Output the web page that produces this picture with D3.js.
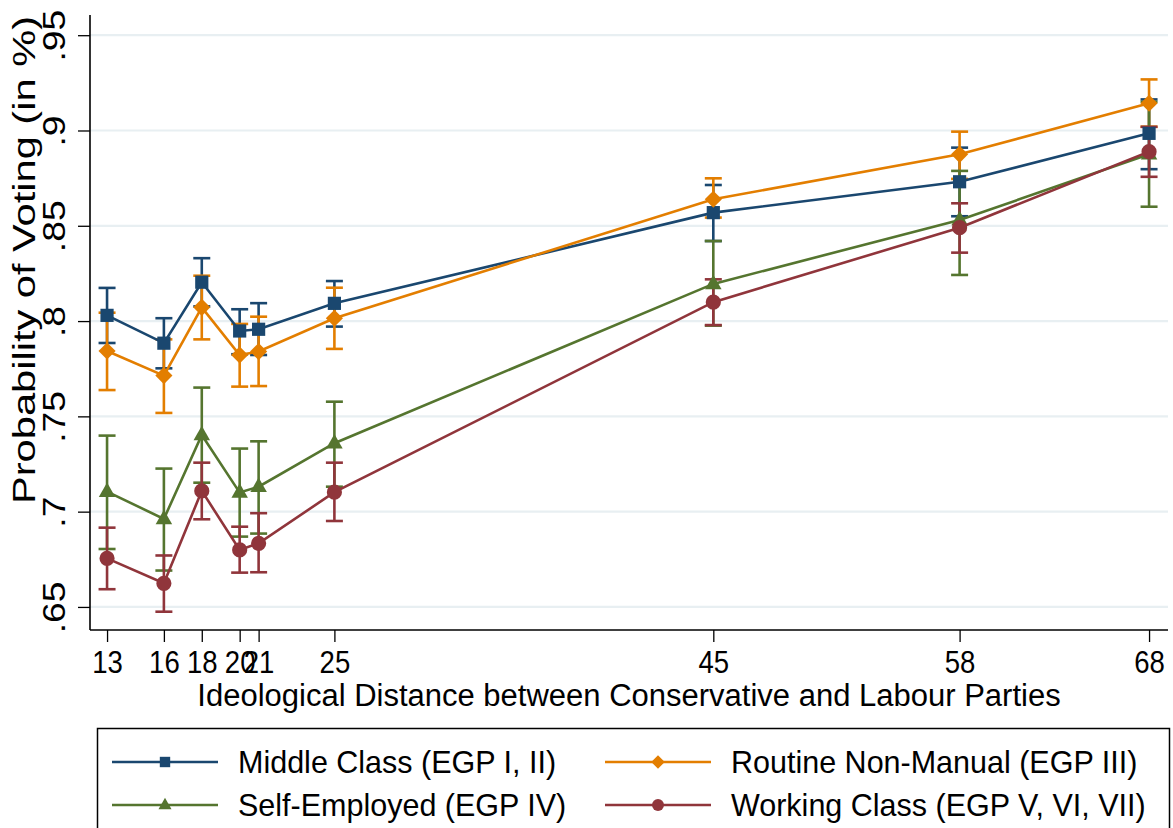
<!DOCTYPE html>
<html>
<head>
<meta charset="utf-8">
<script src="https://cdn.jsdelivr.net/npm/d3@7"></script>
<style>
  html, body { margin: 0; padding: 0; background: #ffffff; }
  svg { display: block; font-family: "Liberation Sans", Arial, Helvetica, sans-serif; }
</style>
</head>
<body>
<svg id="chart" width="1173" height="828"></svg>
<script>
// Ideological distance (x) for each election
const distances = [13, 16, 18, 20, 21, 25, 45, 58, 68];
const xTickLabels = ["13", "16", "18", "20", "21", "25", "45", "58", "68"];
const yTickValues = [0.65, 0.70, 0.75, 0.80, 0.85, 0.90, 0.95];
const yTickLabels = [".65", ".7", ".75", ".8", ".85", ".9", ".95"];

// Predicted probabilities with confidence bounds, one set per class
const middleClass   = [0.8030, 0.7884, 0.8204, 0.7948, 0.7957, 0.8093, 0.8569, 0.8731, 0.8985];
const middleClassLo = [0.7885, 0.7752, 0.8077, 0.7826, 0.7822, 0.7971, 0.8420, 0.8550, 0.8797];
const middleClassHi = [0.8174, 0.8015, 0.8330, 0.8062, 0.8094, 0.8210, 0.8714, 0.8910, 0.9163];

const routineNM   = [0.7843, 0.7714, 0.8072, 0.7822, 0.7840, 0.8015, 0.8639, 0.8875, 0.9143];
const routineNMLo = [0.7638, 0.7518, 0.7904, 0.7656, 0.7659, 0.7854, 0.8543, 0.8746, 0.9020];
const routineNMHi = [0.8044, 0.7904, 0.8238, 0.7985, 0.8023, 0.8175, 0.8749, 0.8994, 0.9268];

const selfEmployed   = [0.7105, 0.6962, 0.7402, 0.7100, 0.7131, 0.7359, 0.8195, 0.8530, 0.8875];
const selfEmployedLo = [0.6804, 0.6691, 0.7152, 0.6869, 0.6885, 0.7131, 0.7976, 0.8242, 0.8600];
const selfEmployedHi = [0.7399, 0.7226, 0.7651, 0.7331, 0.7369, 0.7577, 0.8420, 0.8788, 0.9150];

const workingClass   = [0.6755, 0.6624, 0.7109, 0.6799, 0.6834, 0.7102, 0.8099, 0.8490, 0.8889];
const workingClassLo = [0.6593, 0.6475, 0.6960, 0.6680, 0.6682, 0.6951, 0.7979, 0.8359, 0.8757];
const workingClassHi = [0.6916, 0.6770, 0.7257, 0.6921, 0.6992, 0.7257, 0.8219, 0.8618, 0.9019];

const seriesNames = [
  "Middle Class (EGP I, II)",
  "Routine Non-Manual (EGP III)",
  "Self-Employed (EGP IV)",
  "Working Class (EGP V, VI, VII)"
];
const seriesColors = ["#1a476f", "#e37e00", "#55752f", "#90353b"];
const seriesMarkers = ["square", "diamond", "triangle", "circle"];

const series = [
  { est: middleClass,  lo: middleClassLo,  hi: middleClassHi },
  { est: routineNM,    lo: routineNMLo,    hi: routineNMHi },
  { est: selfEmployed, lo: selfEmployedLo, hi: selfEmployedHi },
  { est: workingClass, lo: workingClassLo, hi: workingClassHi }
].map((s, i) => ({
  name: seriesNames[i], color: seriesColors[i], marker: seriesMarkers[i],
  points: distances.map((d, j) => ({ x: d, y: s.est[j], lo: s.lo[j], hi: s.hi[j] }))
}));

const svg = d3.select("#chart");
const plot = { left: 90, right: 1168, top: 15, bottom: 630 };

const x = d3.scaleLinear().domain([12.1, 69]).range([plot.left, plot.right]);
const y = d3.scaleLinear().domain([0.6379, 0.9606]).range([plot.bottom, plot.top]);

// Horizontal grid lines
svg.append("g")
  .selectAll("line")
  .data(yTickValues)
  .join("line")
  .attr("x1", plot.left).attr("x2", plot.right)
  .attr("y1", d => y(d)).attr("y2", d => y(d))
  .attr("stroke", "#e8eff2").attr("stroke-width", 2.2);

// Axes
const xAxis = d3.axisBottom(x)
  .tickValues(distances)
  .tickFormat((d, i) => xTickLabels[i])
  .tickSize(12).tickPadding(8).tickSizeOuter(0);
const gx = svg.append("g").attr("transform", `translate(0,${plot.bottom})`).call(xAxis);
gx.select(".domain").attr("stroke", "#000").attr("stroke-width", 1.6)
  .attr("d", `M${plot.left},0H${plot.right}`);
gx.selectAll(".tick line").attr("stroke", "#000").attr("stroke-width", 1.3);
// slightly narrow, tall digits, centred on each tick
gx.selectAll(".tick text").attr("font-size", 29).attr("fill", "#000")
  .attr("font-family", "'Liberation Sans', Arial, sans-serif")
  .attr("transform", "scale(0.95,1.05)");

const yAxis = d3.axisLeft(y)
  .tickValues(yTickValues)
  .tickFormat((d, i) => yTickLabels[i])
  .tickSize(12).tickSizeOuter(0);
const gy = svg.append("g").attr("transform", `translate(${plot.left},0)`).call(yAxis);
gy.select(".domain").attr("stroke", "#000").attr("stroke-width", 1.6)
  .attr("d", `M0,${plot.top}V${plot.bottom}`);
gy.selectAll(".tick line").attr("stroke", "#000").attr("stroke-width", 1.3);
gy.selectAll(".tick text")
  .attr("font-size", 31).attr("fill", "#000")
  .attr("font-family", "'Liberation Sans', Arial, sans-serif")
  .attr("text-anchor", "middle").attr("dy", null).attr("x", null)
  .attr("transform", "translate(-25,0) rotate(-90) scale(1.2,1)");

// Axis titles
svg.append("text")
  .attr("transform", "translate(35,260) rotate(-90)")
  .attr("text-anchor", "middle")
  .attr("font-size", 31)
  .attr("textLength", 488).attr("lengthAdjust", "spacingAndGlyphs")
  .text("Probability of Voting (in %)");

svg.append("text")
  .attr("x", (plot.left + plot.right) / 2).attr("y", 706)
  .attr("text-anchor", "middle")
  .attr("font-size", 31)
  .text("Ideological Distance between Conservative and Labour Parties");

// Marker shapes
function markerPath(type, s) {
  if (type === "square") return `M${-s},${-s}H${s}V${s}H${-s}Z`;
  if (type === "diamond") { const d = s * 1.3; return `M0,${-d}L${d},0L0,${d}L${-d},0Z`; }
  if (type === "triangle") { const w = s * 1.25; return `M0,${-s * 1.4}L${w},${s * 0.8}L${-w},${s * 0.8}Z`; }
  return d3.arc()({ innerRadius: 0, outerRadius: s * 1.15, startAngle: 0, endAngle: 2 * Math.PI });
}

// Confidence-interval caps
const capHalf = 8.5;
series.forEach(s => {
  const g = svg.append("g").attr("stroke", s.color).attr("stroke-width", 2.6).attr("fill", "none");
  g.selectAll("line.v").data(s.points).join("line").attr("class", "v")
    .attr("x1", d => x(d.x)).attr("x2", d => x(d.x))
    .attr("y1", d => y(d.lo)).attr("y2", d => y(d.hi));
  g.selectAll("line.t").data(s.points).join("line").attr("class", "t")
    .attr("x1", d => x(d.x) - capHalf).attr("x2", d => x(d.x) + capHalf)
    .attr("y1", d => y(d.hi)).attr("y2", d => y(d.hi));
  g.selectAll("line.b").data(s.points).join("line").attr("class", "b")
    .attr("x1", d => x(d.x) - capHalf).attr("x2", d => x(d.x) + capHalf)
    .attr("y1", d => y(d.lo)).attr("y2", d => y(d.lo));
});

// Connected estimates
const line = d3.line().x(d => x(d.x)).y(d => y(d.y));
series.forEach(s => {
  svg.append("path").datum(s.points)
    .attr("d", line).attr("fill", "none")
    .attr("stroke", s.color).attr("stroke-width", 2.6);
  svg.append("g").selectAll("path").data(s.points).join("path")
    .attr("transform", d => `translate(${x(d.x)},${y(d.y)})`)
    .attr("d", markerPath(s.marker, 6.6))
    .attr("fill", s.color);
});

// Legend
const legend = svg.append("g");
legend.append("rect")
  .attr("x", 97.5).attr("y", 728.5).attr("width", 1072).attr("height", 120)
  .attr("fill", "#fff").attr("stroke", "#000").attr("stroke-width", 1.5);

const legendCols = [112, 605];
const legendRows = [762, 805];
series.forEach((s, i) => {
  const cx = legendCols[i % 2], cy = legendRows[Math.floor(i / 2)];
  const item = legend.append("g").attr("transform", `translate(${cx},${cy})`);
  item.append("line").attr("x1", 0).attr("x2", 106).attr("y1", 0).attr("y2", 0)
    .attr("stroke", s.color).attr("stroke-width", 2.6);
  item.append("path").attr("transform", "translate(53,0)")
    .attr("d", markerPath(s.marker, 5.2)).attr("fill", s.color);
  item.append("text").attr("x", 126).attr("y", 11)
    .attr("font-size", 30.5).attr("fill", "#000")
    .text(s.name);
});
</script>
</body>
</html>
